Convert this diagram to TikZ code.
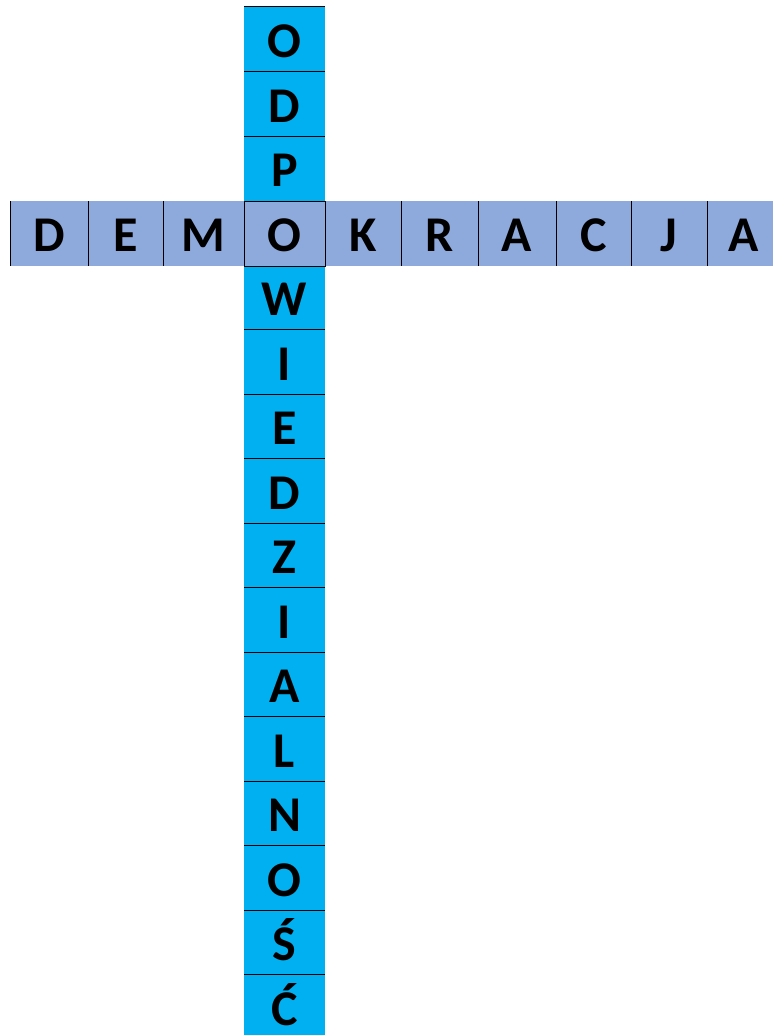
\documentclass[tikz,border=0pt]{standalone}
\usepackage{fontspec}
\setmainfont{Carlito}
\definecolor{rowblue}{HTML}{8EA9DB}
\definecolor{colblue}{HTML}{00B0F0}
\tikzset{
  letter/.style={font=\fontsize{50}{50}\selectfont\bfseries, anchor=base, inner sep=0pt, text=black},
  sepline/.style={line width=1pt, draw=black}
}
\begin{document}
\begin{tikzpicture}[x=1pt,y=-1pt]
\useasboundingbox (0,0) rectangle (773,1035);
% fills
\fill[colblue] (244,7) rectangle (325,1035);
\fill[rowblue] (10.5,201) rectangle (773,266);
% column separators
\foreach \k in {0,1,2,5,6,...,15}
  \draw[sepline] (244,{7+64.53*\k}) -- (325,{7+64.53*\k});
% row separators
\foreach \x in {10.5,88,163,401,478,556,631,707}
  \draw[sepline] (\x,201) -- (\x,266);
% intersection cell
\draw[sepline] (244,201) rectangle (325,266);
% column letters
\foreach \l [count=\i from 0] in {O,D,P,O,W,I,E,D,Z,I,A,L,N,O,Ś,Ć}
  \node[letter] (v\i) at (284.5,{7+64.53*\i+50.5}) {\l};
% row letters (intersection O is v3)
\foreach \l/\x [count=\i from 0] in {D/49.25,E/125.5,M/203.5,K/363,R/439.5,A/517,C/593.5,J/669,A/744}
  \node[letter] (h\i) at (\x,251.5) {\l};
\end{tikzpicture}
\end{document}
